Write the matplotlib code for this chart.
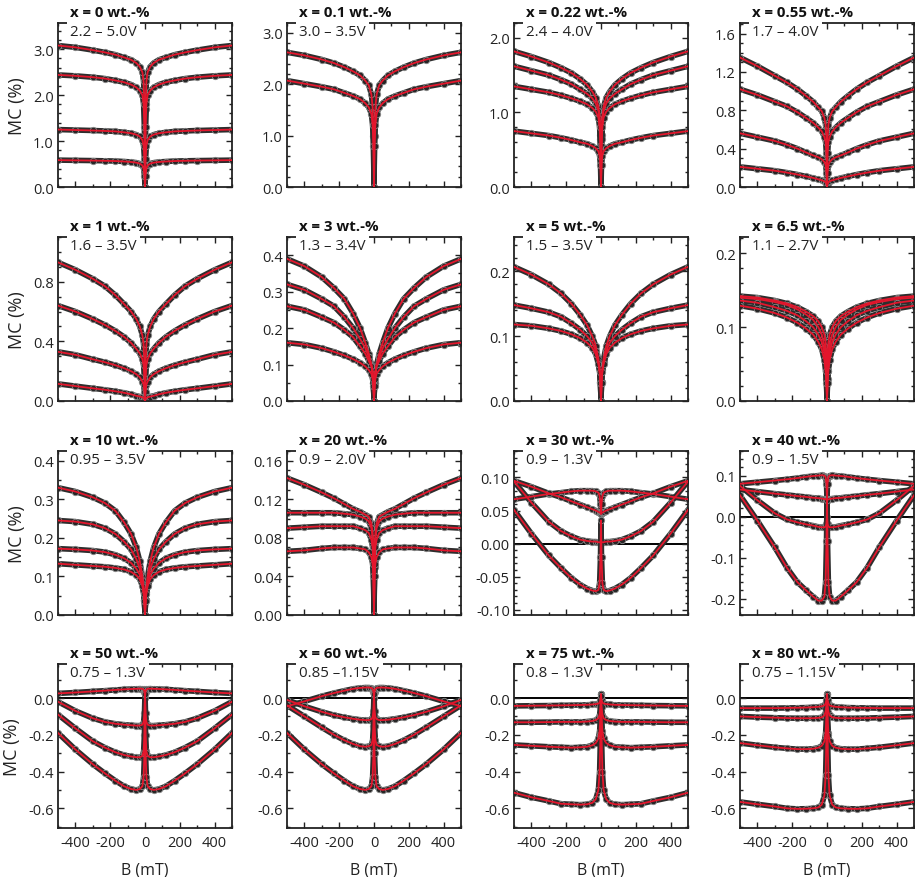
import matplotlib.pyplot as plt
from matplotlib.ticker import MultipleLocator, FormatStrFormatter

plt.rcParams['font.family'] = ['Open Sans', 'DejaVu Sans']
plt.rcParams['axes.unicode_minus'] = False

# field values (mT), positive side; curves are symmetric in B
b_pos = [0, 3, 8, 15, 30, 50, 80, 120, 170, 230, 300, 400, 500]

titles = ['x = 0 wt.-%', 'x = 0.1 wt.-%', 'x = 0.22 wt.-%', 'x = 0.55 wt.-%',
          'x = 1 wt.-%', 'x = 3 wt.-%', 'x = 5 wt.-%', 'x = 6.5 wt.-%',
          'x = 10 wt.-%', 'x = 20 wt.-%', 'x = 30 wt.-%', 'x = 40 wt.-%',
          'x = 50 wt.-%', 'x = 60 wt.-%', 'x = 75 wt.-%', 'x = 80 wt.-%']
volt_labels = ['2.2 – 5.0V', '3.0 – 3.5V', '2.4 – 4.0V', '1.7 – 4.0V',
               '1.6 – 3.5V', '1.3 – 3.4V', '1.5 – 3.5V', '1.1 – 2.7V',
               '0.95 – 3.5V', '0.9 – 2.0V', '0.9 – 1.3V', '0.9 – 1.5V',
               '0.75 – 1.3V', '0.85 –1.15V', '0.8 – 1.3V', '0.75 – 1.15V']

mc_x0 = [[0, 1.7, 2.3, 2.5, 2.62, 2.7, 2.77, 2.82, 2.88, 2.93, 2.98, 3.04, 3.08],
         [0, 1.3, 1.8, 2.0, 2.1, 2.17, 2.23, 2.28, 2.32, 2.36, 2.39, 2.42, 2.44],
         [0, 0.6, 0.9, 1.02, 1.1, 1.14, 1.17, 1.19, 1.21, 1.22, 1.23, 1.24, 1.25],
         [0, 0.25, 0.4, 0.47, 0.51, 0.53, 0.545, 0.555, 0.565, 0.57, 0.575, 0.58, 0.585]]
mc_x01 = [[0, 1.0, 1.55, 1.8, 1.98, 2.07, 2.17, 2.25, 2.33, 2.41, 2.48, 2.56, 2.62],
          [0, 0.8, 1.2, 1.42, 1.55, 1.63, 1.71, 1.77, 1.83, 1.9, 1.95, 2.01, 2.07]]
mc_x022 = [[0, 0.7, 0.95, 1.08, 1.2, 1.28, 1.37, 1.45, 1.53, 1.6, 1.67, 1.75, 1.82],
           [0, 0.65, 0.9, 1.02, 1.12, 1.19, 1.25, 1.31, 1.38, 1.44, 1.5, 1.56, 1.62],
           [0, 0.55, 0.8, 0.93, 1.01, 1.06, 1.11, 1.15, 1.19, 1.23, 1.27, 1.31, 1.35],
           [0, 0.3, 0.42, 0.48, 0.52, 0.55, 0.58, 0.6, 0.63, 0.66, 0.69, 0.72, 0.75]]
mc_x055 = [[0, 0.5, 0.65, 0.72, 0.79, 0.83, 0.89, 0.95, 1.02, 1.09, 1.16, 1.26, 1.35],
           [0, 0.35, 0.47, 0.52, 0.58, 0.62, 0.67, 0.72, 0.78, 0.84, 0.89, 0.96, 1.02],
           [0, 0.15, 0.23, 0.26, 0.29, 0.31, 0.33, 0.36, 0.4, 0.44, 0.48, 0.52, 0.56],
           [0, 0.03, 0.05, 0.06, 0.07, 0.08, 0.095, 0.11, 0.13, 0.15, 0.17, 0.19, 0.21]]
mc_x1 = [[0, 0.25, 0.38, 0.44, 0.5, 0.55, 0.6, 0.65, 0.71, 0.77, 0.82, 0.88, 0.93],
         [0, 0.15, 0.24, 0.28, 0.32, 0.35, 0.39, 0.43, 0.47, 0.51, 0.55, 0.6, 0.64],
         [0, 0.06, 0.11, 0.13, 0.16, 0.18, 0.2, 0.22, 0.24, 0.26, 0.28, 0.31, 0.33],
         [0, 0.01, 0.02, 0.025, 0.03, 0.035, 0.045, 0.055, 0.065, 0.075, 0.085, 0.1, 0.115]]
mc_x3 = [[0, 0.05, 0.08, 0.1, 0.13, 0.16, 0.2, 0.24, 0.28, 0.31, 0.34, 0.37, 0.39],
         [0, 0.05, 0.08, 0.1, 0.12, 0.145, 0.17, 0.2, 0.23, 0.26, 0.28, 0.305, 0.32],
         [0, 0.05, 0.075, 0.095, 0.11, 0.13, 0.15, 0.175, 0.195, 0.215, 0.23, 0.25, 0.26],
         [0, 0.04, 0.06, 0.075, 0.085, 0.095, 0.105, 0.115, 0.125, 0.135, 0.145, 0.155, 0.16]]
mc_x5 = [[0, 0.03, 0.05, 0.065, 0.085, 0.1, 0.117, 0.133, 0.15, 0.166, 0.18, 0.195, 0.207],
         [0, 0.03, 0.048, 0.06, 0.077, 0.09, 0.1, 0.11, 0.12, 0.13, 0.137, 0.143, 0.148],
         [0, 0.028, 0.045, 0.057, 0.072, 0.082, 0.09, 0.097, 0.103, 0.108, 0.112, 0.116, 0.118]]
mc_x65 = [[0, 0.06, 0.08, 0.09, 0.1, 0.108, 0.115, 0.121, 0.127, 0.132, 0.136, 0.14, 0.142],
          [0, 0.04, 0.06, 0.075, 0.09, 0.1, 0.11, 0.117, 0.124, 0.13, 0.134, 0.138, 0.14],
          [0, 0.03, 0.05, 0.065, 0.08, 0.09, 0.1, 0.108, 0.116, 0.122, 0.127, 0.133, 0.136],
          [0, 0.025, 0.04, 0.055, 0.07, 0.08, 0.09, 0.098, 0.106, 0.113, 0.119, 0.125, 0.129]]
mc_x10 = [[0, 0.04, 0.07, 0.1, 0.14, 0.175, 0.21, 0.24, 0.27, 0.29, 0.305, 0.32, 0.33],
          [0, 0.04, 0.07, 0.09, 0.12, 0.145, 0.17, 0.19, 0.21, 0.225, 0.235, 0.242, 0.245],
          [0, 0.04, 0.06, 0.08, 0.105, 0.12, 0.135, 0.147, 0.156, 0.163, 0.167, 0.17, 0.172],
          [0, 0.035, 0.055, 0.075, 0.093, 0.103, 0.112, 0.118, 0.122, 0.125, 0.127, 0.13, 0.133]]
mc_x20 = [[0, 0.06, 0.085, 0.095, 0.102, 0.104, 0.107, 0.11, 0.115, 0.121, 0.127, 0.135, 0.142],
          [0, 0.06, 0.08, 0.09, 0.097, 0.1, 0.102, 0.104, 0.105, 0.106, 0.106, 0.106, 0.106],
          [0, 0.05, 0.07, 0.078, 0.085, 0.088, 0.09, 0.092, 0.092, 0.092, 0.092, 0.091, 0.09],
          [0, 0.04, 0.053, 0.06, 0.065, 0.068, 0.069, 0.07, 0.07, 0.07, 0.069, 0.067, 0.066]]
mc_x30 = [[0.045, 0.06, 0.072, 0.077, 0.079, 0.08, 0.08, 0.08, 0.079, 0.077, 0.075, 0.071, 0.067],
          [0.045, 0.046, 0.047, 0.048, 0.05, 0.052, 0.055, 0.059, 0.064, 0.07, 0.076, 0.086, 0.095],
          [0.002, 0.002, 0.002, 0.002, 0.003, 0.003, 0.004, 0.006, 0.011, 0.019, 0.033, 0.062, 0.094],
          [0.035, -0.02, -0.06, -0.07, -0.072, -0.071, -0.068, -0.062, -0.052, -0.037, -0.018, 0.015, 0.051]]
mc_x40 = [[0.04, 0.08, 0.097, 0.1, 0.101, 0.1, 0.099, 0.097, 0.094, 0.091, 0.088, 0.084, 0.08],
          [0.04, 0.041, 0.042, 0.043, 0.044, 0.045, 0.046, 0.048, 0.05, 0.053, 0.056, 0.061, 0.066],
          [0.0, -0.018, -0.024, -0.026, -0.026, -0.025, -0.022, -0.019, -0.014, -0.007, 0.008, 0.04, 0.075],
          [0.04, -0.06, -0.16, -0.195, -0.205, -0.205, -0.195, -0.18, -0.16, -0.125, -0.075, -0.01, 0.052]]
mc_x50 = [[0.0, 0.035, 0.047, 0.05, 0.051, 0.05, 0.049, 0.047, 0.044, 0.04, 0.036, 0.03, 0.025],
          [0.03, -0.08, -0.13, -0.145, -0.15, -0.15, -0.148, -0.145, -0.14, -0.13, -0.11, -0.07, -0.02],
          [0.03, -0.2, -0.29, -0.315, -0.322, -0.322, -0.318, -0.31, -0.295, -0.27, -0.235, -0.165, -0.09],
          [0.02, -0.3, -0.43, -0.48, -0.495, -0.5, -0.495, -0.48, -0.45, -0.41, -0.36, -0.28, -0.19]]
mc_x60 = [[0.0, 0.035, 0.05, 0.055, 0.057, 0.057, 0.055, 0.05, 0.04, 0.027, 0.01, -0.018, -0.045],
          [0.03, -0.07, -0.105, -0.115, -0.12, -0.12, -0.118, -0.113, -0.105, -0.093, -0.075, -0.045, -0.01],
          [0.03, -0.15, -0.23, -0.255, -0.262, -0.265, -0.262, -0.25, -0.23, -0.2, -0.16, -0.1, -0.04],
          [0.02, -0.3, -0.43, -0.48, -0.495, -0.5, -0.495, -0.48, -0.45, -0.41, -0.36, -0.28, -0.19]]
mc_x75 = [[0.02, -0.01, -0.025, -0.03, -0.033, -0.035, -0.037, -0.038, -0.039, -0.04, -0.041, -0.042, -0.043],
          [0.02, -0.05, -0.09, -0.11, -0.12, -0.125, -0.128, -0.13, -0.13, -0.13, -0.131, -0.132, -0.132],
          [0.02, -0.1, -0.18, -0.22, -0.245, -0.257, -0.265, -0.268, -0.27, -0.268, -0.265, -0.26, -0.255],
          [0.01, -0.2, -0.4, -0.5, -0.55, -0.57, -0.578, -0.58, -0.578, -0.575, -0.56, -0.54, -0.515]]
mc_x80 = [[0.02, -0.01, -0.03, -0.04, -0.045, -0.048, -0.05, -0.052, -0.053, -0.054, -0.055, -0.055, -0.055],
          [0.02, -0.04, -0.075, -0.095, -0.105, -0.108, -0.11, -0.11, -0.11, -0.109, -0.107, -0.104, -0.1],
          [0.02, -0.1, -0.19, -0.235, -0.26, -0.27, -0.276, -0.278, -0.278, -0.274, -0.268, -0.257, -0.245],
          [0.01, -0.2, -0.42, -0.53, -0.58, -0.595, -0.6, -0.602, -0.603, -0.6, -0.59, -0.578, -0.565]]

all_mc = [mc_x0, mc_x01, mc_x022, mc_x055, mc_x1, mc_x3, mc_x5, mc_x65,
          mc_x10, mc_x20, mc_x30, mc_x40, mc_x50, mc_x60, mc_x75, mc_x80]

# y axis settings per panel
y_lims = [(0, 3.57), (0, 3.19), (0, 2.2), (0, 1.71),
          (0, 1.1), (0, 0.45), (0, 0.253), (0, 0.222),
          (0, 0.425), (0, 0.17), (-0.108, 0.14), (-0.24, 0.16),
          (-0.707, 0.185), (-0.707, 0.185), (-0.707, 0.185), (-0.707, 0.185)]
y_major = [1.0, 1.0, 1.0, 0.4, 0.4, 0.1, 0.1, 0.1, 0.1, 0.04, 0.05, 0.1, 0.2, 0.2, 0.2, 0.2]
y_minor = [0.2, 0.2, 0.2, 0.1, 0.1, 0.05, 0.02, 0.02, 0.05, 0.01, 0.01, 0.02, 0.1, 0.1, 0.1, 0.1]
y_fmt = ['%.1f'] * 9 + ['%.2f', '%.2f'] + ['%.1f'] * 5
zero_line = [False] * 10 + [True] * 6


def mirror(vals):
    return vals[:0:-1] + vals


b_full = [-b for b in b_pos[:0:-1]] + b_pos

fig = plt.figure(figsize=(9.15, 8.78), dpi=100)
W, H = 915, 878
lefts = [58, 287, 514, 740]
tops = [24, 238, 452, 665]
aw, ah = 174, 164

red = '#e3162c'
for i, curves in enumerate(all_mc):
    r, c = divmod(i, 4)
    ax = fig.add_axes([lefts[c] / W, 1 - (tops[r] + ah) / H, aw / W, ah / H])
    if zero_line[i]:
        ax.axhline(0, color='black', lw=1.4, zorder=1)
    for vals in curves:
        y = mirror(vals)
        ax.plot(b_full, y, color='#2e2e2e', lw=4.0, zorder=2,
                marker='o', ms=4.6, mfc='#262626', mec='#8a8a8a', mew=0.6)
        ax.plot(b_full, y, color=red, lw=1.3, zorder=3)

    ax.set_xlim(-500, 500)
    ax.set_ylim(*y_lims[i])
    ax.xaxis.set_major_locator(MultipleLocator(200))
    ax.xaxis.set_minor_locator(MultipleLocator(100))
    ax.yaxis.set_major_locator(MultipleLocator(y_major[i]))
    ax.yaxis.set_minor_locator(MultipleLocator(y_minor[i]))
    ax.yaxis.set_major_formatter(FormatStrFormatter(y_fmt[i]))
    ax.tick_params(which='both', direction='in', top=True, right=True,
                   width=1, colors='#222222', labelsize=10.5, labelcolor='#222222')
    ax.tick_params(which='major', length=4.5, pad=3)
    ax.tick_params(which='minor', length=2.5)
    ax.tick_params(axis='x', pad=5)
    for sp in ax.spines.values():
        sp.set_linewidth(1.3)
        sp.set_color('#222222')

    if r < 3:
        ax.set_xticklabels([])
    else:
        ax.set_xlabel('B (mT)', fontsize=11.5, color='#222222', labelpad=8)
    if c == 0:
        ax.set_ylabel('MC (%)', fontsize=13, color='#222222', labelpad=5)

    ax.text(0.07, 1.025, titles[i], transform=ax.transAxes, ha='left', va='bottom',
            fontsize=10.8, fontweight='bold', color='#111111')
    ax.text(0.07, 0.948, volt_labels[i], transform=ax.transAxes, ha='left', va='center',
            fontsize=10.8, color='#222222', zorder=6, clip_on=False,
            bbox=dict(facecolor='white', edgecolor='none', pad=2.5))

fig.savefig('out.png', dpi=100)
